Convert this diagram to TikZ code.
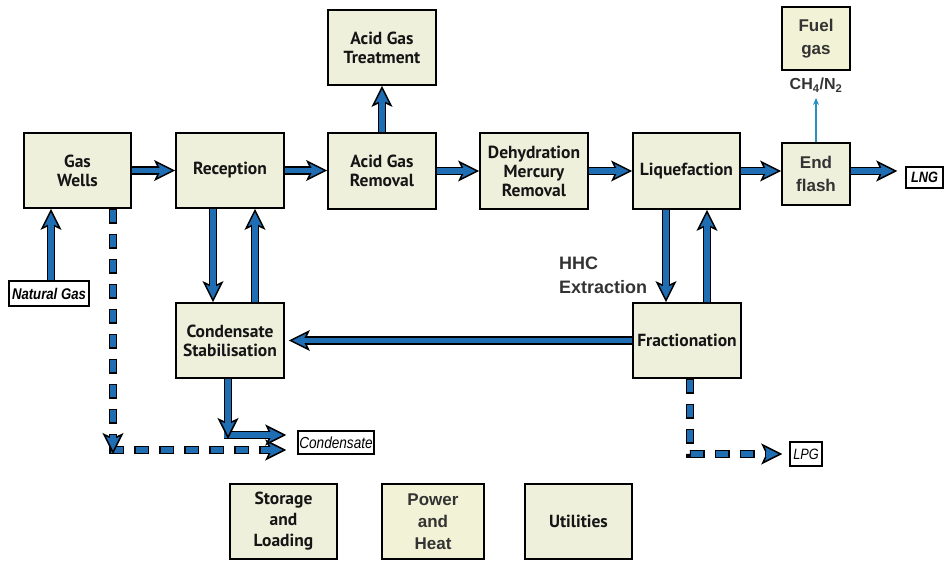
\documentclass[tikz,border=0pt]{standalone}
\usepackage{fontspec}
\setmainfont{PT Sans}
\newfontfamily\arialf{Liberation Sans}
\newfontfamily\narrowf[FakeStretch=0.85]{Liberation Sans}
\usetikzlibrary{arrows.meta}
\definecolor{boxfill}{HTML}{EEF0DC}
\definecolor{yelfill}{HTML}{F2F3D6}
\definecolor{flow}{HTML}{1F6DB3}
\definecolor{thinflow}{HTML}{2B8FC4}
\definecolor{txt}{HTML}{151515}
\definecolor{graytxt}{HTML}{333333}
\tikzset{
  unit/.style={draw=black, line width=1.8pt, fill=boxfill, inner sep=0pt, align=center,
    font=\bfseries\fontsize{17.5}{19}\selectfont, text=txt},
  arialunit/.style={unit, font=\arialf\bfseries\fontsize{17}{23}\selectfont, text=graytxt},
  lblbox/.style={draw=black, line width=1.5pt, fill=white, inner sep=1pt},
  fatblack/.style={draw=black, line width=8.5pt,
    -{Stealth[length=21pt,width=21pt,inset=5pt,line width=1.5pt,fill=flow]}},
  fatblue/.style={draw=flow, line width=5.5pt},
  dashblack/.style={dash pattern=on 15pt off 10pt},
  dashblue/.style={dash pattern=on 0pt off 1.5pt on 12pt off 11.5pt},
  thinarrow/.style={draw=thinflow, line width=1.5pt, -{Stealth[length=7pt,width=6pt]}},
}
\newcommand\fatarrow[2][0pt]{%
  \draw[fatblack, shorten >=#1] #2;
  \draw[fatblue, shorten >=#1+14pt] #2;}
\newcommand\fatdash[2][0pt]{%
  \draw[fatblack, dashblack, shorten >=#1] #2;
  \draw[fatblue, dashblue, shorten >=#1+14pt] #2;}
\begin{document}
\begin{tikzpicture}[x=1pt,y=-1pt]
\useasboundingbox (0,0) rectangle (946,561);
% process units
\node[unit, minimum width=107pt, minimum height=75pt] (gw)  at (77.5,170.5) {Gas\\Wells};
\node[unit, minimum width=108pt, minimum height=75pt] (rec) at (230,170.5) {Reception};
\node[unit, minimum width=108pt, minimum height=76pt] (agr) at (382,171) {Acid Gas\\Removal};
\node[unit, minimum width=108pt, minimum height=75pt] (agt) at (382,47.5) {Acid Gas\\Treatment};
\node[unit, minimum width=108pt, minimum height=76pt] (dmr) at (534,171) {Dehydration\\Mercury\\Removal};
\node[unit, minimum width=107pt, minimum height=76pt] (liq) at (686.5,171) {Liquefaction};
\node[arialunit, minimum width=68pt, minimum height=62pt] (ef) at (816,174) {End\\flash};
\node[arialunit, fill=yelfill, minimum width=68pt, minimum height=63pt] (fuel) at (816,38.5) {Fuel\\gas};
\node[unit, minimum width=108pt, minimum height=75pt] (cs) at (230,340.5) {Condensate\\Stabilisation};
\node[unit, minimum width=108pt, minimum height=75pt] (fr) at (687,340.5) {Fractionation};
\node[unit, font=\bfseries\fontsize{17.5}{21}\selectfont, minimum width=107pt, minimum height=75pt] (stor) at (283.5,521.5) {Storage\\and\\Loading};
\node[arialunit, fill=yelfill, font=\arialf\bfseries\fontsize{17}{22}\selectfont, minimum width=102pt, minimum height=75pt] (pow) at (433,521.5) {Power\\and\\Heat};
\node[unit, minimum width=107pt, minimum height=75pt] (util) at (578.5,521.5) {Utilities};
% stream labels
\node[lblbox, font=\narrowf\bfseries\itshape\fontsize{15.5}{16}\selectfont, minimum width=80pt, minimum height=25pt] (ng) at (49,293.5) {Natural Gas};
\node[lblbox, font=\narrowf\itshape\fontsize{16}{16}\selectfont, minimum width=76pt, minimum height=23pt] (cond) at (336,442.5) {Condensate};
\node[lblbox, font=\narrowf\bfseries\itshape\fontsize{15}{15}\selectfont, minimum width=37pt, minimum height=21pt] (lng) at (924.5,177.5) {LNG};
\node[lblbox, font=\narrowf\itshape\fontsize{15}{15}\selectfont, minimum width=32pt, minimum height=24pt] (lpg) at (806,454) {LPG};
\node[font=\arialf\bfseries\fontsize{16}{16}\selectfont, text=graytxt, inner sep=0pt] (ch) at (816,85) {CH\textsubscript{4}/N\textsubscript{2}};
\node[font=\arialf\bfseries\fontsize{18}{18}\selectfont, text=graytxt, inner sep=0pt, anchor=base west] (hhc) at (559,270) {HHC};
\node[font=\arialf\bfseries\fontsize{18}{18}\selectfont, text=graytxt, inner sep=0pt, anchor=base west] (ext) at (559,294) {Extraction};
% helper coordinates
\coordinate (xng) at (51,0);
\coordinate (xrd) at (213,0);
\coordinate (xru) at (255,0);
\coordinate (xld) at (666,0);
\coordinate (xlu) at (707,0);
\coordinate (xlpg) at (690,0);
\coordinate (dropA) at (113,454);
\coordinate (cornA) at (109,450);
\coordinate (dropB) at (228,439);
\coordinate (cornB) at (224,435);
\coordinate (fuelin) at (816,98);
% main line
\fatarrow{(gw.east) -- (rec.west)}
\fatarrow{(rec.east) -- (rec.east -| agr.west)}
\fatarrow{(agr.north) -- (agt.south)}
\fatarrow{(agr.east) -- (agr.east -| dmr.west)}
\fatarrow{(dmr.east) -- (dmr.east -| liq.west)}
\fatarrow{(liq.east) -- (liq.east -| ef.west)}
\fatarrow[8pt]{(ef.east |- liq.east) -- (lng.west |- liq.east)}
\fatarrow{(ng.north -| xng) -- (gw.south -| xng)}
% reception / condensate stabilisation
\fatarrow{(rec.south -| xrd) -- (cs.north -| xrd)}
\fatarrow{(cs.north -| xru) -- (rec.south -| xru)}
% liquefaction / fractionation
\fatarrow{(liq.south -| xld) -- (fr.north -| xld)}
\fatarrow{(fr.north -| xlu) -- (liq.south -| xlu)}
\fatarrow[4pt]{(fr.west) -- (fr.west -| cs.east)}
% condensate outlets
\fatdash[11pt]{(cornA) -- (cornA -| cond.west)}
\fatdash{(gw.south -| dropA) -- (dropA)}
\fatarrow[11pt]{(cornB) -- (cornB -| cond.west)}
\fatarrow{(cs.south -| dropB) -- (dropB)}
% LPG
\fatdash[7pt]{(fr.south -| xlpg) |- (lpg.west)}
% fuel gas
\draw[thinarrow] (ef.north) -- (fuelin);
\end{tikzpicture}
\end{document}
